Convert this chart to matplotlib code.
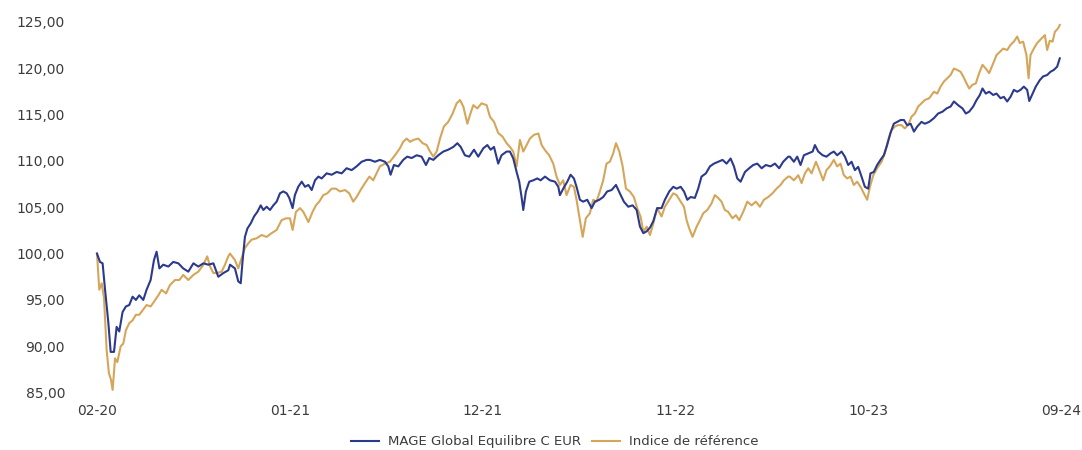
import matplotlib
matplotlib.use("Agg")
import matplotlib.pyplot as plt
from matplotlib.ticker import FuncFormatter

# x = months since Feb 2020, values indexed to 100
fund_months = [
    0.0, 0.17, 0.32, 0.46, 0.65, 0.78, 0.97, 1.12, 1.27, 1.46, 1.65, 1.84, 2.03, 2.22, 2.41, 2.64, 2.83, 3.06,
    3.25, 3.40, 3.56, 3.78, 4.07, 4.35, 4.64, 4.92, 5.21, 5.50, 5.78, 6.07, 6.35, 6.64, 6.92, 7.21, 7.49,
    7.59, 7.87, 8.06, 8.20, 8.31, 8.44, 8.58, 8.77, 8.96, 9.15, 9.34, 9.49, 9.68, 9.87, 10.06, 10.25, 10.44,
    10.63, 10.82, 10.97, 11.16, 11.29, 11.48, 11.68, 11.87, 12.06, 12.25, 12.44, 12.63, 12.82, 13.10, 13.39,
    13.67, 13.96, 14.24, 14.53, 14.81, 15.10, 15.38,
    15.57, 15.86, 16.14, 16.43, 16.62, 16.75, 16.94, 17.19, 17.47, 17.70, 17.95, 18.24, 18.52, 18.77, 18.96,
    19.19, 19.47, 19.76, 20.04, 20.33, 20.56, 20.75, 20.99, 21.24, 21.51, 21.75, 22.04, 22.27, 22.46, 22.65,
    22.89, 23.08, 23.37, 23.56,
    23.75, 23.94, 24.09, 24.23, 24.32, 24.47, 24.66, 24.89, 25.12, 25.31, 25.56, 25.84, 26.13, 26.32, 26.41,
    26.60, 26.83, 27.02, 27.21, 27.36, 27.55, 27.74, 27.97, 28.22, 28.41, 28.66, 28.88, 29.11, 29.36, 29.61,
    29.83, 30.06, 30.31, 30.56, 30.79, 30.98, 31.17, 31.36, 31.55,
    31.74, 31.96, 32.21, 32.40, 32.65, 32.88, 33.07, 33.30, 33.49, 33.68, 33.87, 34.11, 34.30, 34.49, 34.74,
    34.97, 35.20, 35.44, 35.69, 35.92, 36.15, 36.34, 36.53, 36.72, 36.97, 37.21, 37.44, 37.67, 37.92, 38.16,
    38.43, 38.68, 38.92, 39.15, 39.44,
    39.53, 39.76, 39.95, 40.14, 40.33, 40.58, 40.83, 40.96, 41.15, 41.40, 41.62, 41.85, 42.04, 42.23, 42.48,
    42.67, 42.86, 43.05, 43.24, 43.43, 43.62, 43.81, 44.00, 44.13, 44.32, 44.51, 44.70, 44.89, 45.08, 45.27,
    45.46, 45.65, 45.85, 46.04, 46.22, 46.42, 46.61, 46.80, 47.04, 47.23, 47.48,
    47.75, 47.99, 48.24, 48.47, 48.70, 48.89, 49.13, 49.38, 49.57, 49.76, 49.99, 50.18, 50.37, 50.52, 50.71,
    50.90, 51.13, 51.32, 51.55, 51.74, 51.93, 52.12, 52.31, 52.50, 52.69, 52.88, 53.07, 53.19, 53.38, 53.56,
    53.79, 53.98, 54.21, 54.40, 54.59, 54.78, 54.93,
]
fund_values = [
    100.0, 99.1, 98.95, 96.1, 92.5, 89.4, 89.4, 92.1, 91.6, 93.7, 94.3, 94.45, 95.35, 95.0, 95.5, 95.0, 96.1, 97.15,
    99.3, 100.2, 98.4, 98.8, 98.6, 99.1, 98.95, 98.4, 98.05, 98.95, 98.6, 98.95, 98.8, 98.95, 97.5, 97.9, 98.2,
    98.8, 98.4, 97.0, 96.8, 99.3, 101.8, 102.7, 103.25, 104.0, 104.5, 105.2, 104.7, 105.05, 104.7, 105.2, 105.6, 106.5,
    106.7, 106.5, 106.0, 104.9, 106.3, 107.2, 107.75, 107.2, 107.4, 106.85, 107.9, 108.3, 108.1, 108.65, 108.5,
    108.8, 108.65, 109.2, 109.0, 109.4, 109.9, 110.1,
    110.1, 109.9, 110.1, 109.9, 109.4, 108.5, 109.55, 109.4, 110.1, 110.45, 110.3, 110.6, 110.45, 109.55, 110.3,
    110.1, 110.6, 111.0, 111.2, 111.5, 111.9, 111.5, 110.6, 110.45, 111.2, 110.45, 111.35, 111.7, 111.2, 111.5,
    109.7, 110.6, 111.0, 111.0,
    110.25, 108.8, 107.75, 106.0, 104.7, 106.7, 107.75, 107.9, 108.1, 107.9, 108.3, 107.9, 107.75, 107.2, 106.3,
    107.0, 107.75, 108.5, 108.1, 107.2, 105.8, 105.6, 105.8, 104.9, 105.6, 105.8, 106.1, 106.7, 106.85, 107.4,
    106.5, 105.6, 105.05, 105.2, 104.7, 102.9, 102.2, 102.4, 102.8,
    103.5, 104.9, 104.9, 105.8, 106.7, 107.2, 107.0, 107.2, 106.7, 105.8, 106.1, 106.0, 107.0, 108.3, 108.65,
    109.4, 109.7, 109.9, 110.1, 109.7, 110.25, 109.4, 108.1, 107.75, 108.8, 109.2, 109.55, 109.7, 109.2, 109.55,
    109.4, 109.7, 109.2, 109.9, 110.45,
    110.45, 109.9, 110.45, 109.55, 110.6, 110.8, 111.0, 111.7, 111.0, 110.6, 110.45, 110.8, 111.0, 110.6, 111.0,
    110.45, 109.55, 109.9, 109.0, 109.35, 108.3, 107.2, 107.0, 108.65, 108.8, 109.55, 110.1, 110.6, 111.7, 113.0,
    114.0, 114.2, 114.4, 114.4, 113.85, 114.0, 113.15, 113.7, 114.2, 114.0, 114.2,
    114.6, 115.1, 115.3, 115.65, 115.85, 116.4, 116.0, 115.65, 115.1, 115.3, 115.85, 116.55, 117.1, 117.8, 117.25,
    117.45, 117.1, 117.25, 116.75, 116.9, 116.4, 116.9, 117.65, 117.45, 117.65, 118.0, 117.65, 116.45, 117.25, 118.0,
    118.7, 119.1, 119.25, 119.6, 119.8, 120.15, 121.05,
]

bench_months = [
    0.0, 0.13, 0.27, 0.40, 0.55, 0.68, 0.80, 0.89, 1.03, 1.16, 1.35, 1.50, 1.65, 1.84, 2.03, 2.22, 2.41, 2.61,
    2.83, 3.06, 3.25, 3.50, 3.69, 3.94, 4.16, 4.45, 4.70, 4.92, 5.21, 5.50, 5.78, 6.07, 6.29, 6.45, 6.64, 6.83,
    7.11, 7.30, 7.49,
    7.59, 7.87, 8.06, 8.25, 8.44, 8.63, 8.82, 9.11, 9.39, 9.68, 9.96, 10.25, 10.53, 10.78, 11.01, 11.16, 11.35,
    11.58, 11.77, 12.06, 12.30, 12.49, 12.68, 12.91, 13.14, 13.39, 13.63, 13.86, 14.15, 14.39, 14.62, 14.81,
    15.04, 15.29, 15.54,
    15.76, 15.95, 16.14, 16.43, 16.71, 17.00, 17.28, 17.47, 17.67, 17.86, 18.05, 18.33, 18.58, 18.81, 19.00,
    19.19, 19.38, 19.57, 19.79, 20.04, 20.29, 20.52, 20.71, 20.90, 21.13, 21.28, 21.47, 21.70, 21.94, 22.23,
    22.42, 22.65, 22.89, 23.14, 23.37, 23.56,
    23.75, 23.94, 24.13, 24.32, 24.51, 24.70, 24.93, 25.18, 25.37, 25.56, 25.80, 26.03, 26.22, 26.41, 26.60,
    26.79, 27.02, 27.21, 27.36, 27.55, 27.71, 27.89, 28.12, 28.31, 28.50, 28.69, 28.88, 29.07, 29.26, 29.45,
    29.61, 29.80, 29.99, 30.18, 30.40, 30.63, 30.82, 31.01, 31.17, 31.36, 31.55,
    31.74, 31.96, 32.21, 32.40, 32.65, 32.88, 33.07, 33.30, 33.49, 33.64, 33.79, 33.98, 34.21, 34.40, 34.59,
    34.82, 35.06, 35.25, 35.44, 35.63, 35.82, 36.01, 36.26, 36.45, 36.64, 36.87, 37.10, 37.35, 37.59, 37.82,
    38.05, 38.30, 38.54, 38.77, 39.00, 39.19, 39.44,
    39.53, 39.76, 40.01, 40.20, 40.39, 40.58, 40.77, 41.02, 41.21, 41.43, 41.62, 41.81, 42.04, 42.23, 42.42,
    42.61, 42.80, 42.99, 43.18, 43.37, 43.56, 43.75, 43.94, 44.10, 44.29, 44.51, 44.76, 44.95, 45.14, 45.33,
    45.52, 45.71, 45.90, 46.09, 46.28, 46.47, 46.66, 46.85, 47.04, 47.23, 47.48,
    47.75, 47.94, 48.13, 48.32, 48.51, 48.70, 48.89, 49.08, 49.27, 49.42, 49.61, 49.76, 49.95, 50.14, 50.33,
    50.52, 50.71, 50.90, 51.13, 51.32, 51.51, 51.70, 51.93, 52.12, 52.31, 52.50, 52.65, 52.84, 53.03, 53.15,
    53.26, 53.45, 53.64, 53.89, 54.08, 54.21, 54.36, 54.52, 54.65, 54.84, 54.93,
]
bench_values = [
    100.0, 96.1, 96.8, 95.2, 89.6, 87.1, 86.4, 85.3, 88.7, 88.3, 90.0, 90.3, 91.75, 92.5, 92.8, 93.4, 93.4, 93.9,
    94.45, 94.3, 94.8, 95.5, 96.1, 95.7, 96.6, 97.15, 97.15, 97.7, 97.15, 97.7, 98.05, 98.8, 99.7, 98.6, 97.9, 97.9,
    98.05, 98.8, 99.7,
    100.0, 99.3, 98.4, 99.5, 100.6, 101.1, 101.5, 101.65, 102.0, 101.8, 102.2, 102.55, 103.6, 103.8, 103.8, 102.55, 104.5,
    104.9, 104.5, 103.4, 104.5, 105.2, 105.6, 106.3, 106.5, 107.0, 107.0, 106.7, 106.85, 106.5, 105.6, 106.1,
    106.85, 107.6, 108.3,
    107.9, 108.65, 109.4, 109.7, 109.9, 110.6, 111.35, 112.05, 112.4, 112.05, 112.25, 112.4, 111.9, 111.7, 111.0,
    110.45, 111.0, 112.4, 113.7, 114.2, 115.1, 116.2, 116.55, 115.85, 114.0, 114.95, 116.0, 115.65, 116.2, 116.0,
    114.75, 114.2, 113.0, 112.6, 111.9, 111.5,
    111.0, 109.4, 112.25, 111.0, 111.7, 112.4, 112.8, 112.95, 111.7, 111.15, 110.6, 109.7, 108.3, 107.4, 107.9,
    106.3, 107.4, 107.2, 105.8, 103.6, 101.8, 103.8, 104.35, 105.8, 105.6, 106.7, 107.9, 109.7, 109.9, 110.8,
    111.9, 111.0, 109.4, 107.0, 106.7, 106.1, 104.9, 104.0, 102.35, 102.9, 102.0,
    103.25, 104.9, 104.0, 105.05, 105.8, 106.5, 106.3, 105.6, 105.05, 103.6, 102.7, 101.8, 102.9, 103.6, 104.35,
    104.7, 105.4, 106.3, 106.0, 105.6, 104.7, 104.5, 103.8, 104.15, 103.6, 104.5, 105.6, 105.2, 105.6, 105.05,
    105.8, 106.1, 106.5, 107.0, 107.4, 107.9, 108.3,
    108.3, 107.9, 108.45, 107.6, 108.65, 109.2, 108.65, 109.9, 109.0, 107.9, 109.0, 109.4, 110.1, 109.4, 109.7,
    108.45, 108.1, 108.3, 107.4, 107.75, 107.2, 106.5, 105.8, 107.2, 108.45, 109.2, 109.9, 110.8, 112.25, 113.3,
    113.7, 113.85, 113.85, 113.5, 113.85, 114.75, 115.1, 115.85, 116.2, 116.55, 116.75,
    117.45, 117.25, 118.0, 118.55, 118.9, 119.25, 119.95, 119.8, 119.6, 119.1, 118.35, 117.8, 118.2, 118.35, 119.45,
    120.35, 119.95, 119.45, 120.5, 121.4, 121.75, 122.1, 121.95, 122.5, 122.85, 123.4, 122.7, 122.85, 121.4, 118.9,
    121.4, 122.1, 122.7, 123.2, 123.55, 121.95, 122.95, 122.85, 123.9, 124.3, 124.65,
]

tick_months = [0, 11, 22, 33, 44, 55]
tick_labels = ["02-20", "01-21", "12-21", "11-22", "10-23", "09-24"]
series_names = ["MAGE Global Equilibre C EUR", "Indice de référence"]

if len(fund_months) != len(fund_values) or len(bench_months) != len(bench_values):
    print(len(fund_months), len(fund_values), len(bench_months), len(bench_values))

text_color = "#3c3c3c"
fig = plt.figure(figsize=(10.82, 4.5), dpi=100)
ax = fig.add_axes([97 / 1082, 1 - 392.7 / 450, 964 / 1082, 371 / 450])

ax.plot(bench_months, bench_values, color="#d5a65a", lw=1.5, label=series_names[1], zorder=2, clip_on=False)
ax.plot(fund_months, fund_values, color="#2b3a8c", lw=1.5, label=series_names[0], zorder=3, clip_on=False)

ax.set_xlim(0, 55)
ax.set_ylim(85, 125)
ax.set_yticks(range(85, 126, 5))
ax.yaxis.set_major_formatter(FuncFormatter(lambda v, p: f"{v:.2f}".replace(".", ",")))
ax.set_xticks(tick_months)
ax.set_xticklabels(tick_labels)
ax.tick_params(axis="y", length=0, pad=23, labelsize=10, labelcolor=text_color)
ax.tick_params(axis="x", length=0, pad=8, labelsize=10, labelcolor=text_color)
for s in ax.spines.values():
    s.set_visible(False)

h, l = ax.get_legend_handles_labels()
fig.legend(h[::-1], l[::-1], loc="center", bbox_to_anchor=(555 / 1082, 1 - 441.7 / 450), ncol=2,
           frameon=False, fontsize=9.5, handlelength=2.1, handletextpad=0.7, columnspacing=0.85,
           labelcolor=text_color)

fig.savefig("out.png", dpi=100)
